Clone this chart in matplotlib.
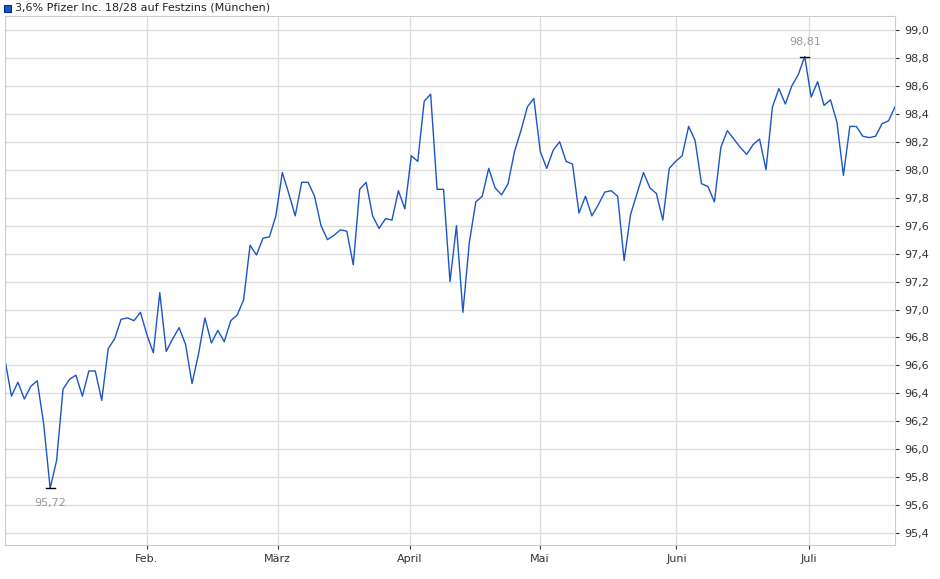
import numpy as np
import matplotlib
matplotlib.use("Agg")
import matplotlib.pyplot as plt
from matplotlib.ticker import FuncFormatter, MultipleLocator

title = "3,6% Pfizer Inc. 18/28 auf Festzins (München)"
values = [96.64, 96.38, 96.48, 96.36, 96.45, 96.49, 96.18, 95.72, 95.92, 96.43,
          96.50, 96.53, 96.38, 96.56, 96.56, 96.35, 96.72, 96.79, 96.93, 96.94,
          96.92, 96.98, 96.82, 96.69, 97.12, 96.70, 96.79, 96.87, 96.75, 96.47,
          96.68, 96.94, 96.76, 96.85, 96.77, 96.92, 96.96, 97.07, 97.46, 97.39,
          97.51, 97.52, 97.67, 97.98, 97.83, 97.67, 97.91, 97.91, 97.81, 97.60,
          97.50, 97.53, 97.57, 97.56, 97.32, 97.86, 97.91, 97.67, 97.58, 97.65,
          97.64, 97.85, 97.72, 98.10, 98.06, 98.49, 98.54, 97.86, 97.86, 97.20,
          97.60, 96.98, 97.48, 97.77, 97.81, 98.01, 97.87, 97.82, 97.90, 98.13,
          98.28, 98.45, 98.51, 98.13, 98.01, 98.14, 98.20, 98.06, 98.04, 97.69,
          97.81, 97.67, 97.75, 97.84, 97.85, 97.81, 97.35, 97.68, 97.83, 97.98,
          97.87, 97.83, 97.64, 98.01, 98.06, 98.10, 98.31, 98.21, 97.90, 97.88,
          97.77, 98.16, 98.28, 98.22, 98.16, 98.11, 98.18, 98.22, 98.00, 98.45,
          98.58, 98.47, 98.60, 98.68, 98.81, 98.52, 98.63, 98.46, 98.50, 98.34,
          97.96, 98.31, 98.31, 98.24, 98.23, 98.24, 98.33, 98.35, 98.45]
month_labels = ["Feb.", "März", "April", "Mai", "Juni", "Juli"]
month_pos = [22.0, 42.3, 62.8, 82.9, 104.1, 124.6]

x = np.arange(len(values))
fig = plt.figure(figsize=(9.4, 5.79), dpi=100)
ax = fig.add_axes([5/940, 34/579, 890/940, 529/579])
ax.plot(x, values, color="#1a56c4", lw=1.0)
ax.set_xlim(0, len(values) - 1)
ax.set_ylim(95.315, 99.10)
ax.yaxis.tick_right()
ax.yaxis.set_major_locator(MultipleLocator(0.2))
ax.yaxis.set_major_formatter(FuncFormatter(lambda v, p: f"{v:.1f}".replace(".", ",")))
ax.set_xticks(month_pos)
ax.set_xticklabels(month_labels)
ax.tick_params(labelsize=8, colors="#333333", length=3)
ax.grid(True, color="#dddddd", lw=1)
for s in ax.spines.values():
    s.set_color("#cccccc")

imin = int(np.argmin(values)); imax = int(np.argmax(values))
for i, off, va in [(imin, -0.07, "top"), (imax, 0.07, "bottom")]:
    ax.plot([i - 0.7, i + 0.7], [values[i]] * 2, color="black", lw=1)
    ax.text(i, values[i] + off, f"{values[i]:.2f}".replace(".", ","),
            ha="center", va=va, fontsize=8, color="#999999")

fig.patches.append(plt.Rectangle((4/940, 1 - 12/579), 7/940, 7/579, transform=fig.transFigure,
                                 facecolor="#1a56c4", edgecolor="#0a2a80", lw=0.8))
fig.text(15/940, 1 - 8/579, title, fontsize=8, va="center", ha="left", color="#222222")
fig.savefig("out.png", dpi=100)
